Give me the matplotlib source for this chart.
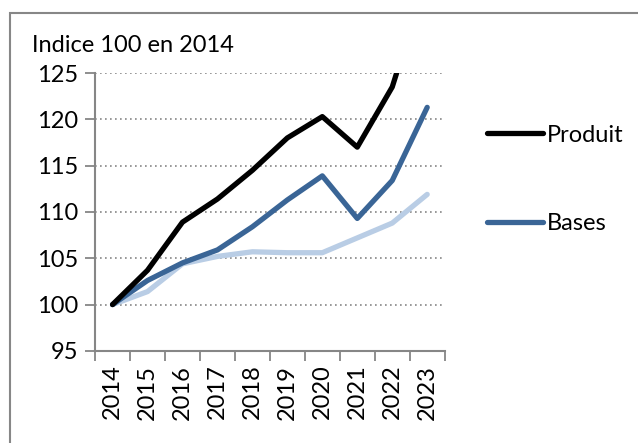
import matplotlib
matplotlib.use("Agg")
import matplotlib.pyplot as plt
from matplotlib.patches import Rectangle

plt.rcParams['font.family'] = ['Lato', 'DejaVu Sans']

annees = ['2014', '2015', '2016', '2017', '2018', '2019', '2020', '2021', '2022', '2023']
produit = [100, 103.7, 108.9, 111.4, 114.5, 118.0, 120.3, 117.0, 123.5, 135.5]
bases = [100, 102.6, 104.5, 105.9, 108.4, 111.3, 113.9, 109.3, 113.4, 121.3]
autre = [100, 101.4, 104.4, 105.2, 105.7, 105.6, 105.6, 107.2, 108.8, 111.9]

fig = plt.figure(figsize=(6.38, 4.43), dpi=100)
ax = fig.add_axes([0.149, 0.208, 0.548, 0.627])

x = list(range(len(annees)))
ax.plot(x, autre, color='#b9cde5', lw=3.8, solid_capstyle='round', label='_nolegend_', zorder=3)
ax.plot(x, bases, color='#3a6596', lw=3.8, solid_capstyle='round', label='Bases', zorder=4)
ax.plot(x, produit, color='black', lw=3.8, solid_capstyle='round', label='Produit', zorder=5)

ax.set_xlim(-0.5, len(annees) - 0.5)
ax.set_ylim(95, 125)
ax.set_yticks(range(95, 126, 5))
ax.set_xticks(x)
ax.set_xticklabels(annees, rotation=90, fontsize=17)
ax.set_xticks([i - 0.5 for i in range(len(annees) + 1)], minor=True)
ax.tick_params(axis='x', which='major', length=0, pad=10)
ax.tick_params(axis='x', which='minor', length=7, width=1.3, color='#868686', direction='out')
ax.tick_params(axis='y', labelsize=17, length=7, width=1.3, color='#868686', pad=5)

ax.grid(axis='y', linestyle=(0, (1, 2)), color='#868686', lw=1.2)
ax.set_axisbelow(True)
for s in ['top', 'right']:
    ax.spines[s].set_visible(False)
for s in ['left', 'bottom']:
    ax.spines[s].set_color('#868686')
    ax.spines[s].set_linewidth(1.5)

fig.text(0.05, 0.898, 'Indice 100 en 2014', fontsize=17, va='center', ha='left')

h, l = ax.get_legend_handles_labels()
fig.legend(h[::-1], l[::-1], loc='upper left', bbox_to_anchor=(0.748, 0.74),
           frameon=False, fontsize=17, handlelength=2.4, handletextpad=0.15,
           labelspacing=2.85, borderaxespad=0)

fig.add_artist(Rectangle((0.0157, -0.1), 1.2, 1.071, transform=fig.transFigure,
                         fill=False, edgecolor='#878787', lw=1.5))

fig.savefig('out.png', dpi=100)
